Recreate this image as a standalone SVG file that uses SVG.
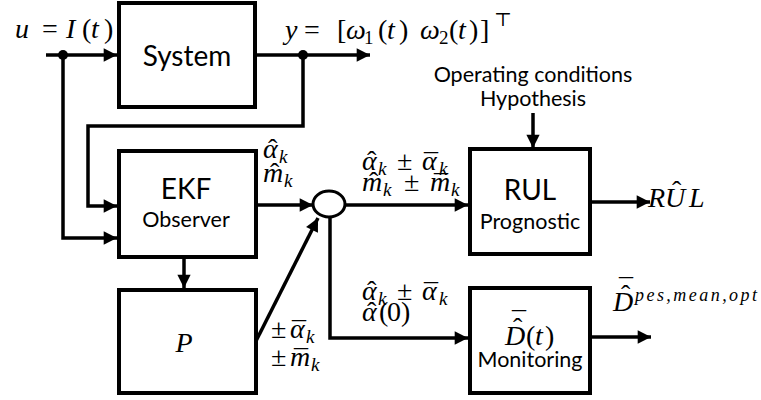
<svg xmlns="http://www.w3.org/2000/svg" width="761" height="400" viewBox="0 0 761 400">
<style>
.box{fill:#fff;stroke:#000;stroke-width:4}
.ln{fill:none;stroke:#000;stroke-width:3.5}
.sans{font-family:Lato,"Open Sans","Liberation Sans",sans-serif;fill:#000;text-anchor:middle}
.big{font-size:28px}
.sm{font-size:21.5px}
.m{font-family:"Liberation Serif","DejaVu Serif",serif;font-size:28px;fill:#000}
.i{font-style:italic}
.sub{font-size:19px;font-style:italic}
</style>
<defs>
<marker id="ah" viewBox="0 0 10 10" refX="10" refY="5" markerWidth="4.4" markerHeight="3.8" markerUnits="strokeWidth" orient="auto">
<path d="M0,0 L10,5 L0,10 z" fill="#000"/>
</marker>
</defs>
<g id="connectors">
<line class="ln" x1="46" y1="55" x2="117" y2="55" marker-end="url(#ah)"/>
<polyline class="ln" points="63,55 63,238 117,238" marker-end="url(#ah)"/>
<line class="ln" x1="255" y1="55" x2="370" y2="55" marker-end="url(#ah)"/>
<polyline class="ln" points="303,55 303,126 88,126 88,206 117,206" marker-end="url(#ah)"/>
<line class="ln" x1="256" y1="205" x2="313" y2="205" marker-end="url(#ah)"/>
<line class="ln" x1="184" y1="257" x2="184" y2="288" marker-end="url(#ah)"/>
<line class="ln" x1="256" y1="341" x2="318" y2="218" marker-end="url(#ah)"/>
<line class="ln" x1="345" y1="205" x2="468" y2="205" marker-end="url(#ah)"/>
<polyline class="ln" points="330,218 330,338 468,338" marker-end="url(#ah)"/>
<line class="ln" x1="533" y1="113" x2="533" y2="148" marker-end="url(#ah)"/>
<line class="ln" x1="590" y1="202" x2="650" y2="202" marker-end="url(#ah)"/>
<line class="ln" x1="590" y1="337" x2="651" y2="337" marker-end="url(#ah)"/>
<circle cx="63" cy="55" r="5" fill="#000"/>
<circle cx="303" cy="55" r="5" fill="#000"/>
</g>
<g id="system">
<rect class="box" x="119" y="3" width="136" height="104"/>
<text class="sans big" x="187" y="66">System</text>
</g>
<g id="ekf">
<rect class="box" x="119" y="151" width="137" height="106"/>
<text class="sans big" x="186" y="199">EKF</text>
<text class="sans sm" x="186" y="227">Observer</text>
</g>
<g id="p">
<rect class="box" x="119" y="290" width="137" height="103"/>
<text class="m i" x="184" y="352" font-size="30" text-anchor="middle">P</text>
</g>
<g id="sum">
<ellipse cx="329" cy="204" rx="16" ry="13" fill="#fff" stroke="#000" stroke-width="3"/>
</g>
<g id="rul">
<rect class="box" x="470" y="149" width="120" height="105"/>
<text class="sans big" x="530" y="200">RUL</text>
<text class="sans sm" x="530" y="229">Prognostic</text>
</g>
<g id="monitoring">
<rect class="box" x="470" y="288" width="120" height="105"/>
<text class="m"><tspan class="i" x="505" y="345">D</tspan><tspan x="512" y="331">¯</tspan><tspan x="513" y="337">ˆ</tspan><tspan x="526" y="345">(</tspan><tspan class="i" x="535" y="345">t</tspan><tspan x="545" y="345">)</tspan></text>
<text class="sans sm" x="530" y="367">Monitoring</text>
</g>
<g id="operating">
<text class="sans sm" x="533" y="82">Operating conditions</text>
<text class="sans sm" x="533" y="106">Hypothesis</text>
</g>
<g id="labels">
<text class="m"><tspan class="i" x="15" y="38">u</tspan><tspan x="42" y="38">=</tspan><tspan class="i" x="66" y="38">I</tspan><tspan x="82" y="38">(</tspan><tspan class="i" x="91" y="38">t</tspan><tspan x="104" y="38">)</tspan></text>
<text class="m"><tspan class="i" x="285" y="39">y</tspan><tspan x="304" y="39">=</tspan><tspan x="337" y="39">[</tspan><tspan class="i" x="346" y="39">ω</tspan><tspan font-size="19" x="364" y="44">1</tspan><tspan x="378" y="39">(</tspan><tspan class="i" x="387" y="39">t</tspan><tspan x="399" y="39">)</tspan><tspan class="i" x="420" y="39">ω</tspan><tspan font-size="19" x="439" y="44">2</tspan><tspan x="449" y="39">(</tspan><tspan class="i" x="458" y="39">t</tspan><tspan x="469" y="39">)</tspan><tspan x="480" y="39">]</tspan><tspan font-size="19" x="494" y="26">⊤</tspan></text>
<text class="m"><tspan class="i" x="263" y="158">α</tspan><tspan x="268" y="158">ˆ</tspan><tspan class="sub" x="279" y="163">k</tspan><tspan class="i" x="263" y="182">m</tspan><tspan x="270" y="182">ˆ</tspan><tspan class="sub" x="284" y="187">k</tspan></text>
<text class="m"><tspan class="i" x="362" y="170">α</tspan><tspan x="367" y="170">ˆ</tspan><tspan class="sub" x="378" y="175">k</tspan><tspan x="397" y="170">±</tspan><tspan class="i" x="422" y="170">α</tspan><tspan x="424" y="173">¯</tspan><tspan class="sub" x="439" y="175">k</tspan></text>
<text class="m"><tspan class="i" x="362" y="191">m</tspan><tspan x="369" y="191">ˆ</tspan><tspan class="sub" x="383" y="196">k</tspan><tspan x="404" y="191">±</tspan><tspan class="i" x="430" y="191">m</tspan><tspan x="434" y="194">¯</tspan><tspan class="sub" x="451" y="196">k</tspan></text>
<text class="m"><tspan class="i" x="362" y="300">α</tspan><tspan x="367" y="300">ˆ</tspan><tspan class="sub" x="378" y="305">k</tspan><tspan x="397" y="300">±</tspan><tspan class="i" x="422" y="300">α</tspan><tspan x="424" y="303">¯</tspan><tspan class="sub" x="439" y="305">k</tspan></text>
<text class="m"><tspan class="i" x="362" y="321">α</tspan><tspan x="367" y="321">ˆ</tspan><tspan x="379" y="321">(</tspan><tspan x="387" y="321">0</tspan><tspan x="401" y="321">)</tspan></text>
<text class="m"><tspan x="271" y="338">±</tspan><tspan class="i" x="290" y="338">α</tspan><tspan x="292" y="341">¯</tspan><tspan class="sub" x="306" y="343">k</tspan></text>
<text class="m"><tspan x="271" y="366">±</tspan><tspan class="i" x="290" y="366">m</tspan><tspan x="294" y="369">¯</tspan><tspan class="sub" x="311" y="371">k</tspan></text>
<text class="m i" font-size="26"><tspan x="648" y="207">R</tspan><tspan x="665" y="207">U</tspan><tspan x="672" y="200" font-style="normal">ˆ</tspan><tspan x="689" y="207">L</tspan></text>
<text class="m"><tspan class="i" x="613" y="311">D</tspan><tspan x="619" y="298">¯</tspan><tspan x="621" y="304">ˆ</tspan><tspan class="i" font-size="18" x="635" y="301" textLength="122" lengthAdjust="spacing">pes,mean,opt</tspan></text>
</g>
</svg>
